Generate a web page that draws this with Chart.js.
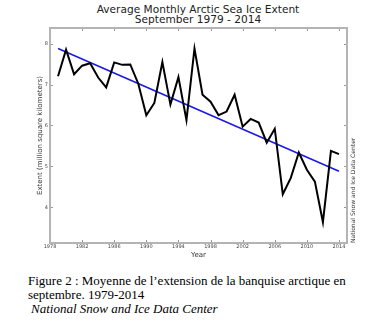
<!DOCTYPE html>
<html>
<head>
<meta charset="utf-8">
<script src="https://cdn.jsdelivr.net/npm/chart.js@4.4.1/dist/chart.umd.min.js"></script>
<style>
  html, body { margin: 0; padding: 0; background: #fff; overflow: hidden; }
  body { width: 388px; height: 321px; position: relative; }
  #wrap { position: absolute; left: 0; top: 0; width: 388px; height: 262px; }
  #title { position: absolute; left: 0; top: 4px; width: 396px; text-align: center;
           font: 10.6px/10px "DejaVu Sans", sans-serif; color: #222; }
  #side { position: absolute; left: 349px; top: 243px; transform-origin: 0 0; transform: rotate(-90deg);
          font: 6px/7px "DejaVu Sans", sans-serif; color: #333; white-space: nowrap; }
  .cap { position: absolute; left: 28px; font: 13px/14px "Liberation Serif", "Times New Roman", serif; color: #000; white-space: nowrap; }
</style>
</head>
<body>
<div id="title">Average Monthly Arctic Sea Ice Extent<br>September 1979 - 2014</div>
<div id="wrap"><canvas id="line-chart"></canvas></div>
<div id="side">National Snow and Ice Data Center</div>
<div class="cap" style="top:274px">Figure 2 : Moyenne de l’extension de la banquise arctique en</div>
<div class="cap" style="top:288px">septembre. 1979-2014</div>
<div class="cap" style="top:302px; left:31px; font-style:italic">National Snow and Ice Data Center</div>
<script>
// valeurs
let years = [1979, 1980, 1981, 1982, 1983, 1984, 1985, 1986, 1987, 1988, 1989, 1990,
             1991, 1992, 1993, 1994, 1995, 1996, 1997, 1998, 1999, 2000, 2001, 2002,
             2003, 2004, 2005, 2006, 2007, 2008, 2009, 2010, 2011, 2012, 2013, 2014];
let extent = [7.20, 7.85, 7.25, 7.46, 7.52, 7.17, 6.93, 7.54, 7.48, 7.49, 7.02, 6.25,
              6.55, 7.55, 6.51, 7.18, 6.13, 7.88, 6.75, 6.58, 6.25, 6.34, 6.75, 5.97,
              6.16, 6.07, 5.58, 5.92, 4.32, 4.72, 5.34, 4.92, 4.63, 3.64, 5.38, 5.30];
// ligne de tendance (extrémités lues)
let trendYears = [1979, 2014];
let trendValues = [7.88, 4.88];
let xTicks = [1978, 1982, 1986, 1990, 1994, 1998, 2002, 2006, 2010, 2014];
let yTicks = [4, 5, 6, 7, 8];

// cadre gris + petites graduations vers l'intérieur
const frame = {
  id: 'frame',
  afterDraw(chart) {
    const ctx = chart.ctx;
    const a = chart.chartArea;
    const x = chart.scales.x, y = chart.scales.y;
    ctx.save();
    ctx.strokeStyle = '#999';
    ctx.lineWidth = 1;
    ctx.beginPath();
    xTicks.forEach(v => {
      let px = Math.round(x.getPixelForValue(v)) + 0.5;
      ctx.moveTo(px, a.bottom); ctx.lineTo(px, a.bottom - 3);
      ctx.moveTo(px, a.top); ctx.lineTo(px, a.top + 3);
    });
    yTicks.forEach(v => {
      let py = Math.round(y.getPixelForValue(v)) + 0.5;
      ctx.moveTo(a.left, py); ctx.lineTo(a.left + 3, py);
      ctx.moveTo(a.right, py); ctx.lineTo(a.right - 3, py);
    });
    ctx.stroke();
    ctx.strokeStyle = '#b4b4b4';
    ctx.lineWidth = 2;
    ctx.strokeRect(a.left, a.top, a.right - a.left, a.bottom - a.top);
    ctx.restore();
  }
};

let myChart = new Chart(document.getElementById('line-chart').getContext('2d'), {
  type: 'line',
  data: {
    datasets: [
      {
        label: 'Extent',
        data: years.map((yr, i) => ({ x: yr, y: extent[i] })),
        borderColor: '#000',
        borderWidth: 2,
        pointRadius: 0,
        tension: 0
      },
      {
        label: 'Trend',
        data: trendYears.map((yr, i) => ({ x: yr, y: trendValues[i] })),
        borderColor: '#1a1ae6',
        borderWidth: 1.6,
        pointRadius: 0
      }
    ]
  },
  plugins: [frame],
  options: {
    responsive: true,
    maintainAspectRatio: false,
    animation: false,
    devicePixelRatio: 1,
    layout: { padding: { top: 28, left: 0, right: 41, bottom: 3 } },
    plugins: { legend: { display: false }, tooltip: { enabled: false } },
    scales: {
      x: {
        type: 'linear',
        min: 1978,
        max: 2015,
        grid: { display: false, drawTicks: false },
        border: { display: false },
        afterBuildTicks: s => { s.ticks = xTicks.map(v => ({ value: v })); },
        afterFit: s => { s.height = 16; },
        ticks: {
          padding: 1,
          maxRotation: 0,
          autoSkip: false,
          color: '#444',
          font: { family: 'DejaVu Sans', size: 5 },
          callback: v => String(v)
        },
        title: {
          display: true,
          text: 'Year',
          color: '#333',
          padding: 0,
          font: { family: 'DejaVu Sans', size: 7 }
        }
      },
      y: {
        min: 3.13,
        max: 8.38,
        grid: { display: false, drawTicks: false },
        border: { display: false },
        afterBuildTicks: s => { s.ticks = yTicks.map(v => ({ value: v })); },
        afterFit: s => { s.width = 50; },
        ticks: {
          padding: 2,
          color: '#444',
          font: { family: 'DejaVu Sans', size: 5 },
          callback: v => String(v)
        },
        title: {
          display: true,
          text: 'Extent (million square kilometers)',
          color: '#333',
          padding: { top: 35.8, bottom: 0 },
          font: { family: 'DejaVu Sans', size: 7 }
        }
      }
    }
  }
});
</script>
</body>
</html>
